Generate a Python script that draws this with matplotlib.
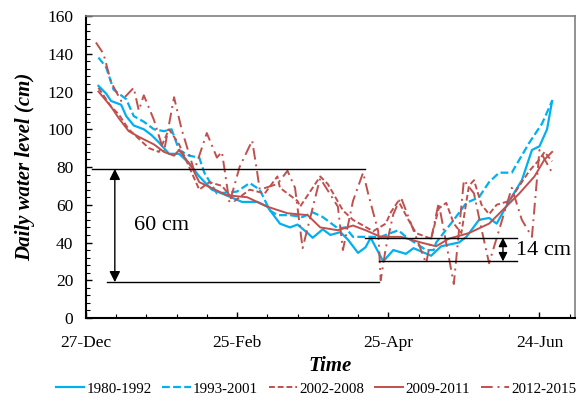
import numpy as np
import matplotlib
matplotlib.use('Agg')
import matplotlib.pyplot as plt
from matplotlib.ticker import MultipleLocator, FixedLocator

plt.rcParams['font.family'] = ['Liberation Serif', 'DejaVu Serif']

# days counted from 27-Dec
d_8092 = [5, 8, 10, 14, 16, 19, 23, 26, 29, 33, 37, 41, 45, 50, 54, 62, 68, 72, 77, 81, 84, 88, 90,
          94, 97, 101, 104, 108, 111, 113, 118, 122, 127, 130, 137, 141, 148, 151, 156, 160, 163,
          168, 173, 177, 180, 183, 185]
v_8092 = [123, 119, 115, 113, 107, 102, 100, 97, 93, 87, 87, 82, 75, 68, 66, 61.5, 61.5, 59, 50, 48, 49.5, 45, 42.5,
          47, 44, 45.5, 41.5, 34.5, 37.5, 42.5, 30, 36, 34, 37, 33, 38, 40, 43, 52, 53, 50,
          62, 73, 89, 91, 100, 115]

d_9301 = [5, 8, 11, 16, 19, 23, 27, 31, 34, 37, 41, 45, 47, 52, 60, 65, 69, 73, 76, 81, 86, 90, 94,
          100, 103, 106, 111, 117, 124, 127, 135, 138, 139, 146, 151, 156, 160, 164, 169, 176, 181, 185]
v_9301 = [138, 133, 121, 116, 107, 104, 100, 99, 100, 89, 86, 85, 77, 66, 67, 71.5, 68, 57, 54.5, 54.5, 53.5, 56, 53.5,
          47.5, 48, 43, 43, 43, 46.5, 43, 36, 36, 40, 52, 61, 64, 72, 77, 77, 93, 103, 115]

d_0208 = [5, 10, 13, 17, 21, 25, 29, 33, 37, 41, 45, 49, 54, 59, 65, 71, 76, 77, 84, 85, 93, 96, 102,
          106, 114, 119, 121, 124, 128, 131, 137, 140, 143, 146, 149, 152, 154, 157, 160, 163,
          168, 172, 176, 180, 182, 185]
v_0208 = [122, 112, 108, 100, 95, 90, 88, 100, 92, 80, 68, 72, 70, 62, 68, 66, 75, 69, 62, 59, 75, 71, 57,
          52, 46, 50, 56, 62, 52, 45, 42, 58, 61, 50, 45, 70, 73, 60, 55, 60,
          62, 70, 78, 84, 88, 83]

d_0911 = [5, 10, 13, 17, 21, 27, 31, 35, 37, 42, 45, 56, 64, 72, 80, 88, 93, 100, 106, 111, 117, 125,
          133, 139, 144, 152, 160, 166, 172, 178, 182, 185]
v_0911 = [120, 112, 106, 99, 96, 92, 88, 86, 89, 80, 72, 65, 64, 59, 55.5, 54.5, 48, 46.5, 49, 46.5, 43, 43,
          40, 38, 42, 45, 50, 58, 66, 75, 84, 88]

d_1215 = [4, 7, 10, 14, 19, 21, 23, 27, 31, 35, 38, 43, 48, 52, 54, 57, 61, 66, 68, 69, 76, 80, 83,
          86, 92, 93, 100, 102, 106, 110, 112, 116, 117, 119, 122, 125, 131, 135, 140, 146, 150,
          154, 157, 160, 169, 173, 177, 180, 185]
v_1215 = [146, 140, 125, 115, 122, 110, 118, 105, 88, 117, 100, 78, 98, 85, 88, 61, 80, 94, 77, 68, 71, 78, 69,
          37, 69, 74, 59, 36, 62, 77, 66, 46, 20, 37, 55, 64, 43, 29, 61, 18, 73,
          66, 47, 29, 69, 52, 43, 89, 77]

tick_days = [0, 60, 120, 180]
tick_labels = ['27-Dec', '25-Feb', '25-Apr', '24-Jun']

blue = '#00B0F0'
red = '#C0504D'

fig = plt.figure(figsize=(5.8, 4.01), dpi=100)
ax = fig.add_axes([0.148, 0.207, 0.843, 0.753])

ax.plot(d_8092, v_8092, color=blue, lw=1.6, label='1980-1992')
ax.plot(d_9301, v_9301, color=blue, lw=1.6, dashes=(3.5, 1.5), label='1993-2001')
ax.plot(d_0208, v_0208, color=red, lw=1.4, dashes=(3, 1.5), label='2002-2008')
ax.plot(d_0911, v_0911, color=red, lw=1.4, label='2009-2011')
ax.plot(d_1215, v_1215, color=red, lw=1.4, dashes=(6, 2.5, 1, 2.5), label='2012-2015')

# reference lines and arrows
ax.plot([2.4, 110.7], [79, 79], color='k', lw=1)
ax.plot([8.3, 116.3], [19, 19], color='k', lw=1)
ax.plot([110.7, 171], [42.5, 42.5], color='k', lw=1)
ax.plot([116.3, 171], [30, 30], color='k', lw=1)
ax.annotate('', xy=(11.5, 19), xytext=(11.5, 79),
            arrowprops=dict(arrowstyle='<|-|>', color='k', lw=1, mutation_scale=16, shrinkA=0, shrinkB=0))
ax.annotate('', xy=(165.5, 30), xytext=(165.5, 42.5),
            arrowprops=dict(arrowstyle='<|-|>', color='k', lw=1, mutation_scale=13, shrinkA=0, shrinkB=0))
ax.text(19, 49, '60 cm', fontsize=16, va='center', ha='left')
ax.text(170.6, 35.5, '14 cm', fontsize=16, va='center', ha='left')

ax.set_xlim(0, 194)
ax.set_ylim(0, 160)
ax.xaxis.set_major_locator(FixedLocator(tick_days))
ax.set_xticklabels(tick_labels)
ax.xaxis.set_minor_locator(MultipleLocator(12))
ax.yaxis.set_major_locator(MultipleLocator(20))
ax.yaxis.set_minor_locator(MultipleLocator(4))
ax.tick_params(which='both', direction='in', labelsize=12.5, top=False, right=False)
ax.tick_params(which='major', length=4, width=1)
ax.tick_params(which='minor', length=3, width=0.8)
ax.tick_params(axis='x', pad=12)
ax.tick_params(axis='y', pad=9)

for s in ['left', 'bottom']:
    ax.spines[s].set_linewidth(1.5)
    ax.spines[s].set_color('black')
for s in ['top', 'right']:
    ax.spines[s].set_linewidth(1.2)
    ax.spines[s].set_color('#7f7f7f')

ax.set_ylabel('Daily water level (cm)', fontsize=15, fontweight='bold', fontstyle='italic', labelpad=9)
ax.set_xlabel('Time', fontsize=15, fontweight='bold', fontstyle='italic', labelpad=4)

fig.legend(loc='lower center', bbox_to_anchor=(0.545, -0.02), ncol=5, frameon=False,
           fontsize=10.8, handlelength=1.9, columnspacing=0.7, handletextpad=0.15)

fig.savefig('out.png', dpi=100)
